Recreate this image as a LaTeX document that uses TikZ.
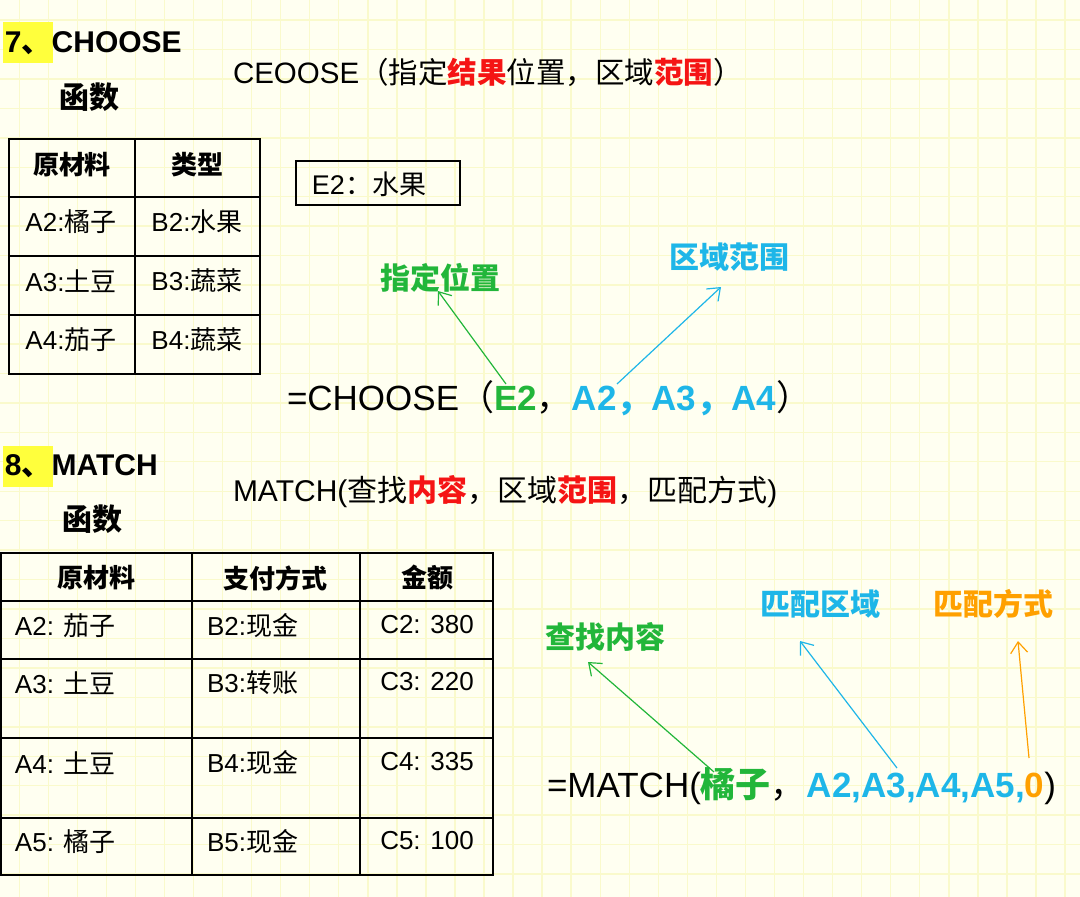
\documentclass[tikz,border=0pt]{standalone}
\usepackage{fontspec}
\setmainfont{Liberation Sans}
\newfontfamily\cjk{Noto Sans CJK SC}
\usetikzlibrary{arrows.meta}
\definecolor{bgc}{RGB}{255,255,241}
\definecolor{gridc}{RGB}{250,250,204}
\definecolor{hl}{RGB}{255,255,60}
\definecolor{grn}{RGB}{34,182,58}
\definecolor{cyn}{RGB}{30,182,232}
\definecolor{rd}{RGB}{245,20,20}
\definecolor{org}{RGB}{255,160,0}
\newcommand\zh[1]{{\cjk #1}}
\begin{document}
\begin{tikzpicture}[x=1pt,y=-1pt,
  every node/.style={inner sep=0pt,outer sep=0pt},
  gridline/.style={gridc,line width=1.4pt},
  tbl/.style={line width=1.6pt,black},
  cell/.style={font=\fontsize{26}{28}\selectfont},
  hdr/.style={font=\fontsize{26}{28}\selectfont\bfseries\cjk},
  title/.style={font=\fontsize{30}{32}\selectfont\bfseries},
  formula/.style={font=\fontsize{35}{37}\selectfont},
  lbl/.style={font=\fontsize{30}{32}\selectfont\bfseries\cjk},
  pointer/.style={line width=1.2pt,-{Straight Barb[length=11pt,width=17pt,line width=1.2pt]}}
]
\useasboundingbox (0,0) rectangle (1080,897);
\fill[bgc] (0,0) rectangle (1080,897);
\foreach \i in {0,...,37} \draw[gridline] ({19.2+29.05*\i},0) -- ({19.2+29.05*\i},897);
\foreach \j in {0,...,30} \draw[gridline] (0,{20+29.45*\j}) -- (1080,{20+29.45*\j});

% ---------- Section 7 ----------
\fill[hl] (3,22) rectangle (53,63);
\node[title,anchor=west] (t7) at (5,43) {7\zh{、}CHOOSE};
\node[title] (t7b) at (89,97) {\zh{函数}};
\node[font=\fontsize{29.5}{31}\selectfont,anchor=west] (syn7) at (233,72) {CEOOSE\zh{（指定\textcolor{rd}{\bfseries 结果}位置，区域\textcolor{rd}{\bfseries 范围}）}};

% table 1
\draw[tbl] (9,139) rectangle (260,374);
\draw[tbl] (135,139) -- (135,374);
\foreach \y in {197,256,315} \draw[tbl] (9,\y) -- (260,\y);
\node[hdr] (h11) at (72,165) {原材料};
\node[hdr] (h12) at (197,165) {类型};
\node[cell] (c11) at (71,222) {A2:\zh{橘子}};
\node[cell] (c12) at (197,222) {B2:\zh{水果}};
\node[cell] (c21) at (71,281) {A3:\zh{土豆}};
\node[cell] (c22) at (197,281) {B3:\zh{蔬菜}};
\node[cell] (c31) at (71,340) {A4:\zh{茄子}};
\node[cell] (c32) at (197,340) {B4:\zh{蔬菜}};

% E2 box
\draw[line width=1.4pt] (296,161) rectangle (460,205);
\node[font=\fontsize{27}{29}\selectfont] (e2) at (369,184) {E2\zh{：水果}};

% formula 7
\node[formula,anchor=west] (f7) at (287,398) {=CHOOSE\zh{（}\textcolor{grn}{\bfseries E2}\zh{，}\textcolor{cyn}{\bfseries A2\zh{，}A3\zh{，}A4}\zh{）}};
\node[lbl,grn] (l71) at (440,278) {指定位置};
\node[lbl,cyn] (l72) at (729,257) {区域范围};
\coordinate (a71s) at (506,384);
\coordinate (a71e) at (438,291);
\coordinate (a72s) at (617,384);
\coordinate (a72e) at (721,287);
\draw[pointer,grn] (a71s) -- (a71e);
\draw[pointer,cyn] (a72s) -- (a72e);

% ---------- Section 8 ----------
\fill[hl] (3,446) rectangle (53,487);
\node[title,anchor=west] (t8) at (5,466) {8\zh{、}MATCH};
\node[title] (t8b) at (92,519) {\zh{函数}};
\node[font=\fontsize{30}{32}\selectfont,anchor=west] (syn8) at (233,492) {MATCH(\zh{查找\textcolor{rd}{\bfseries 内容}，区域\textcolor{rd}{\bfseries 范围}，匹配方式})};

% table 2
\draw[tbl] (1,553) rectangle (493,875);
\draw[tbl] (192,553) -- (192,875);
\draw[tbl] (360,553) -- (360,875);
\foreach \y in {601,659,738,818} \draw[tbl] (1,\y) -- (493,\y);
\node[hdr] (h21) at (96,578) {原材料};
\node[hdr] (h22) at (275,578) {支付方式};
\node[hdr] (h23) at (427,578) {金额};
\node[cell,anchor=west] (d11) at (15,626) {A2: \zh{茄子}};
\node[cell,anchor=west] (d12) at (207,626) {B2:\zh{现金}};
\node[cell] (d13) at (427,625) {C2: 380};
\node[cell,anchor=west] (d21) at (15,683) {A3: \zh{土豆}};
\node[cell,anchor=west] (d22) at (207,683) {B3:\zh{转账}};
\node[cell] (d23) at (427,682) {C3: 220};
\node[cell,anchor=west] (d31) at (15,763) {A4: \zh{土豆}};
\node[cell,anchor=west] (d32) at (207,763) {B4:\zh{现金}};
\node[cell] (d33) at (427,762) {C4: 335};
\node[cell,anchor=west] (d41) at (15,842) {A5: \zh{橘子}};
\node[cell,anchor=west] (d42) at (207,842) {B5:\zh{现金}};
\node[cell] (d43) at (427,841) {C5: 100};

% formula 8
\node[formula,anchor=west] (f8) at (547,786) {=MATCH(\textcolor{grn}{\bfseries\zh{橘子}}\zh{，}\hspace{1pt}\textcolor{cyn}{\bfseries A2,A3,A4,A5,}\textcolor{org}{\bfseries 0})};
\node[lbl,grn] (l81) at (605,637) {查找内容};
\node[lbl,cyn] (l82) at (820,604) {匹配区域};
\node[lbl,org] (l83) at (993,604) {匹配方式};
\coordinate (a81s) at (714,772);
\coordinate (a81e) at (588,662);
\coordinate (a82s) at (897,768);
\coordinate (a82e) at (800,641);
\coordinate (a83s) at (1029,758);
\coordinate (a83e) at (1018,641);
\draw[pointer,grn] (a81s) -- (a81e);
\draw[pointer,cyn] (a82s) -- (a82e);
\draw[pointer,org] (a83s) -- (a83e);
\end{tikzpicture}
\end{document}
